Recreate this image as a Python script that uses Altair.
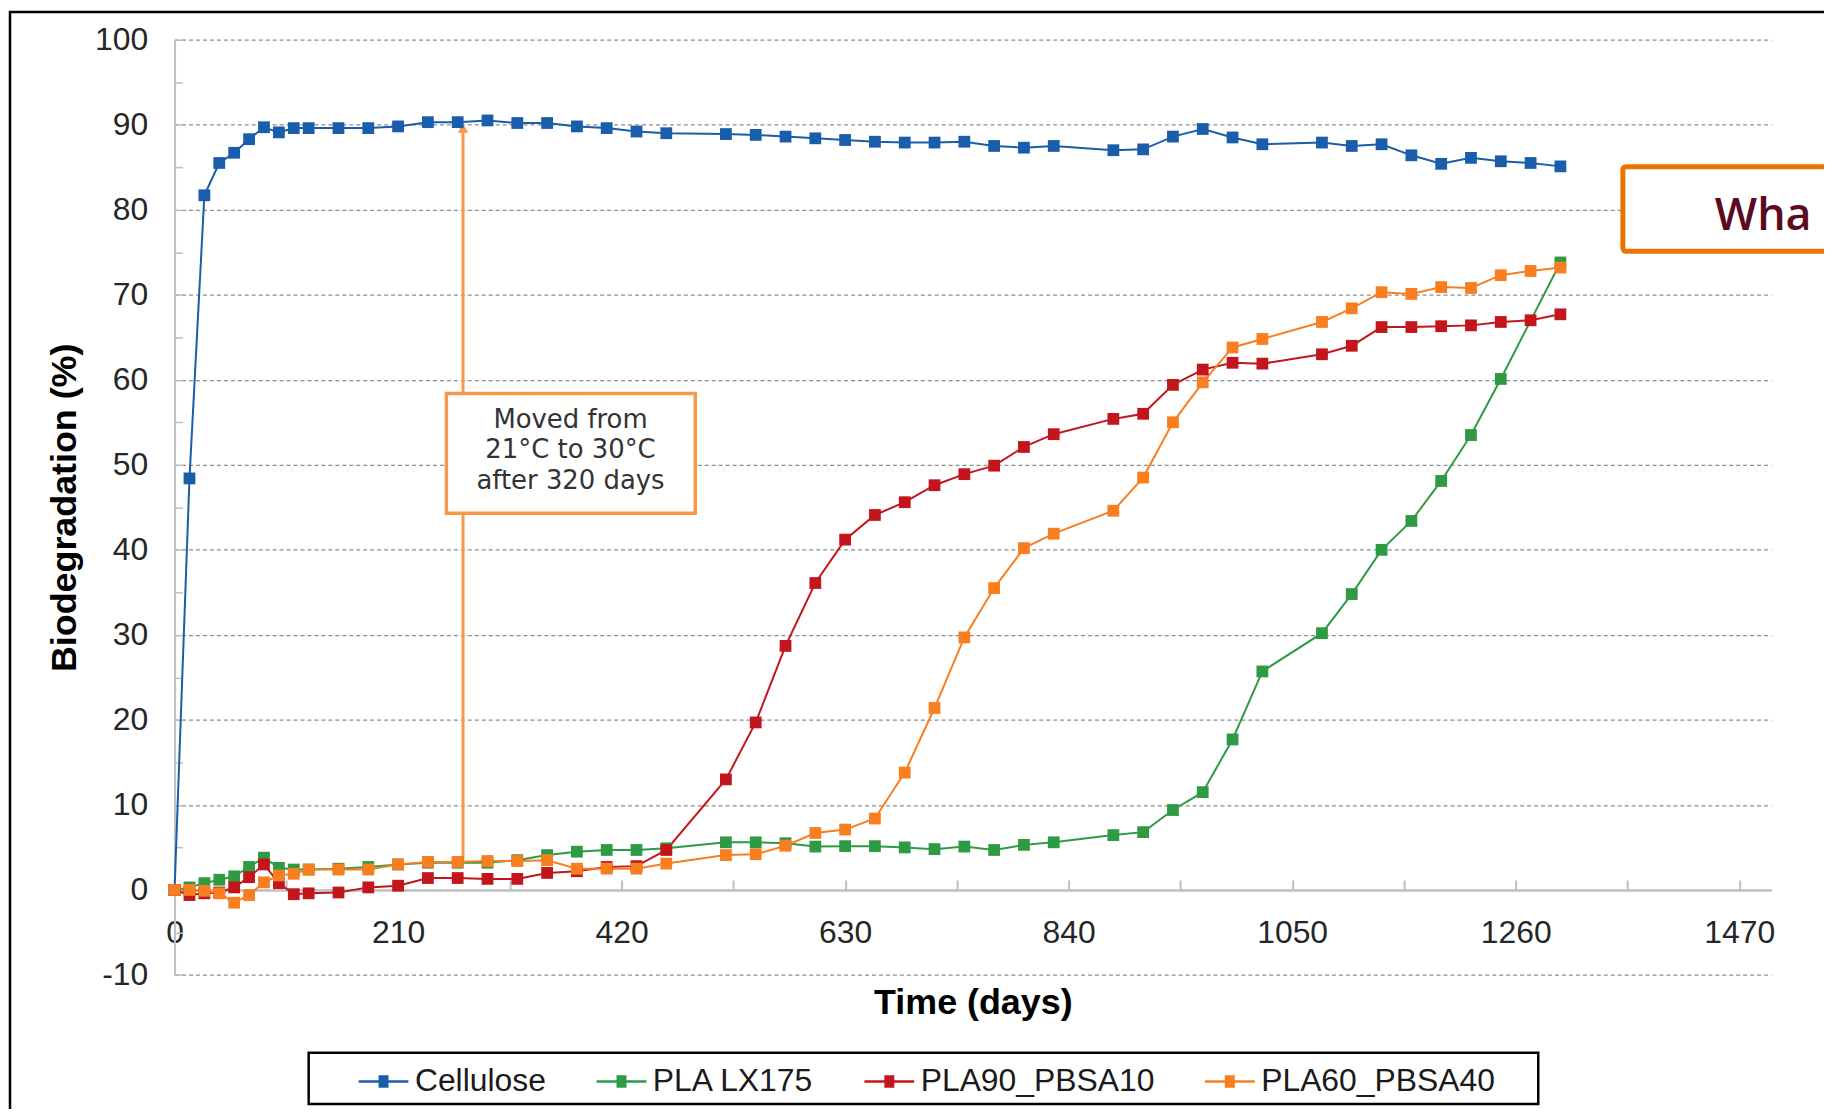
import altair as alt
import pandas as pd

# ---------------- data ----------------
days = [0, 14, 28, 42, 56, 70, 84, 98, 112, 126,
        154, 182, 210, 238, 266, 294, 322, 350, 378, 406,
        434, 462, 518, 546, 574, 602, 630, 658, 686, 714,
        742, 770, 798, 826, 882, 910, 938, 966, 994, 1022,
        1078, 1106, 1134, 1162, 1190, 1218, 1246, 1274, 1302]

cellulose = [0, 48.4, 81.7, 85.5, 86.7, 88.3, 89.7, 89.1, 89.6, 89.6,
             89.6, 89.6, 89.8, 90.3, 90.3, 90.5, 90.2, 90.2, 89.8, 89.6,
             89.2, 89.0, 88.9, 88.8, 88.6, 88.4, 88.2, 88.0, 87.9, 87.9,
             88.0, 87.5, 87.3, 87.5, 87.0, 87.1, 88.6, 89.5, 88.5, 87.7,
             87.9, 87.5, 87.7, 86.4, 85.4, 86.1, 85.7, 85.5, 85.1]

pla_lx175 = [0, 0.3, 0.8, 1.2, 1.6, 2.7, 3.8, 2.6, 2.4, 2.4,
             2.5, 2.7, 3.0, 3.2, 3.2, 3.2, 3.5, 4.1, 4.5, 4.7,
             4.7, 4.9, 5.6, 5.6, 5.5, 5.1, 5.15, 5.15, 5.0, 4.8,
             5.1, 4.7, 5.3, 5.6, 6.45, 6.8, 9.4, 11.5, 17.7, 25.7,
             30.2, 34.8, 40.0, 43.4, 48.1, 53.5, 60.1, None, 73.8]

pla90_pbsa10 = [0, -0.6, -0.4, -0.3, 0.3, 1.5, 3.0, 0.8, -0.5, -0.4,
                -0.3, 0.3, 0.5, 1.4, 1.4, 1.3, 1.3, 2.0, 2.2, 2.7,
                2.8, 4.7, 13.0, 19.7, 28.7, 36.1, 41.2, 44.1, 45.6, 47.6,
                48.9, 49.9, 52.1, 53.6, 55.4, 56.0, 59.4, 61.2, 62.0, 61.9,
                63.0, 64.0, 66.2, 66.2, 66.3, 66.4, 66.8, 67.0, 67.7]

pla60_pbsa40 = [0, 0.0, -0.1, -0.4, -1.5, -0.6, 0.9, 1.7, 1.9, 2.4,
                2.4, 2.4, 3.0, 3.3, 3.3, 3.4, 3.4, 3.5, 2.5, 2.5,
                2.5, 3.1, 4.1, 4.2, 5.2, 6.7, 7.1, 8.4, 13.8, 21.4,
                29.7, 35.5, 40.2, 41.9, 44.6, 48.5, 55.0, 59.7, 63.8, 64.8,
                66.8, 68.4, 70.3, 70.1, 70.9, 70.8, 72.3, 72.8, 73.2]

series_names = ["Cellulose", "PLA LX175", "PLA90_PBSA10", "PLA60_PBSA40"]
series_colors = ["#1A5DAB", "#2F9A44", "#C3161C", "#F97E1F"]

x_label_values = [0, 210, 420, 630, 840, 1050, 1260, 1470]
x_tick_values = [0, 105, 210, 315, 420, 525, 630, 735, 840, 945, 1050, 1155, 1260, 1365, 1470]
y_label_values = [-10, 0, 10, 20, 30, 40, 50, 60, 70, 80, 90, 100]
y_tick_values = [-10, -5, 0, 5, 10, 15, 20, 25, 30, 35, 40, 45, 50, 55, 60, 65, 70, 75, 80, 85, 90, 95, 100]

# annotation: temperature change
shift_day = [271]
shift_from = [3.2]
shift_to = [89.6]
note_box_x = [255.4]
note_box_x2 = [489.2]
note_box_y = [58.4]
note_box_y2 = [44.3]
note_lines = ["Moved from", "21\u00b0C to 30\u00b0C", "after 320 days"]
note_line_y = [55.3, 51.7, 48.1]
note_x = 372

rows = []
for name, vals in zip(series_names, [cellulose, pla_lx175, pla90_pbsa10, pla60_pbsa40]):
    for d, v in zip(days, vals):
        if v is None:
            continue
        rows.append({"series": name, "day": d, "value": v})
df = pd.DataFrame(rows)

# ---------------- layout ----------------
PW = 1603.6
PH = 939.4
FONT = "Liberation Sans"
# line with a small "filled" square drawn from stacked strokes
LEGEND_PATH = ("M-1,0H1"
               "M-0.2,-0.2H0.2M-0.2,-0.1H0.2M-0.2,0H0.2M-0.2,0.1H0.2M-0.2,0.2H0.2")

xs = alt.Scale(domain=[0, 1500], nice=False, zero=False)
ys = alt.Scale(domain=[-10, 100], nice=False, zero=False)
cs = alt.Scale(domain=series_names, range=series_colors)

legend = alt.Legend(
    orient="none", legendX=183.4, legendY=1019.6, direction="horizontal",
    columns=4, title=None, labelFont=FONT, labelFontSize=32, labelColor="#1a1a1a",
    symbolType=LEGEND_PATH, symbolSize=2500, symbolStrokeWidth=2.6,
    symbolFillColor="transparent", symbolOpacity=1,
    labelOffset=5, columnPadding=45, padding=0, labelLimit=500,
)

dummy = pd.DataFrame({"k": [0]})

TOTAL_W = 1824
TOTAL_H = 1101
PAD_L = 167.3
PAD_T = 29.4

# slide frame (left + top edges)
frame = alt.Chart(dummy).mark_rect(fill=None, stroke="black", strokeWidth=2.5).encode(
    x=alt.value(-165.3), x2=alt.value(1700), y=alt.value(1.5 - PAD_T), y2=alt.value(1200)
)

base = alt.Chart(df)

lines = base.mark_line(strokeWidth=2).encode(
    x=alt.X("day:Q", scale=xs, axis=alt.Axis(
        orient="bottom", offset=-PH * 10 / 110, values=x_label_values, format="d",
        grid=False, ticks=False, tickSize=0,
        domainColor="#BFBFBF", domainWidth=2.5,
        labelFont=FONT, labelFontSize=32, labelColor="#262626", labelPadding=28,
        labelFlush=False, labelOverlap=False,
        title="Time (days)", titleFont=FONT, titleFontSize=36, titleFontWeight="bold",
        titleColor="black", titleX=PW / 2, titleY=113.5, titleAlign="center",
        titleBaseline="middle")),
    y=alt.Y("value:Q", scale=ys, axis=alt.Axis(
        orient="left", values=y_label_values, labelExpr="'' + datum.value",
        grid=True, gridDash=[4, 3], gridColor="#8C8C8C", gridWidth=1.3,
        ticks=False, tickSize=0, domainColor="#BFBFBF", domainWidth=2,
        labelFont=FONT, labelFontSize=32, labelColor="#262626", labelPadding=27,
        labelOverlap=False,
        title="Biodegradation (%)", titleFont=FONT, titleFontSize=36,
        titleFontWeight="bold", titleColor="black", titleX=-110, titleY=PH / 2,
        titleAngle=-90, titleAlign="center", titleBaseline="middle")),
    color=alt.Color("series:N", scale=cs, legend=legend),
    detail="series:N",
)

points = base.mark_point(shape="square", filled=True, size=140, opacity=1).encode(
    x=alt.X("day:Q", scale=xs, axis=alt.Axis(
        orient="top", offset=-PH * 100 / 110, values=x_tick_values,
        labels=False, domain=False, grid=False, ticks=True, tickSize=10,
        tickColor="#BFBFBF", tickWidth=2, title=None)),
    y=alt.Y("value:Q", scale=ys, axis=alt.Axis(
        orient="right", offset=-PW, values=y_tick_values,
        labels=False, domain=False, grid=False, ticks=True, tickSize=8,
        tickColor="#BFBFBF", tickWidth=1.5, title=None)),
    color=alt.Color("series:N", scale=cs, legend=legend),
)

ann_df = pd.DataFrame({"day": shift_day, "y1": shift_from, "y2": shift_to})
vline = alt.Chart(ann_df).mark_rule(color="#F59A4B", strokeWidth=3).encode(
    x=alt.X("day:Q", scale=xs, axis=None),
    y=alt.Y("y1:Q", scale=ys, axis=None),
    y2="y2:Q",
)
arrow = alt.Chart(ann_df).mark_point(shape="triangle-up", filled=True, size=110,
                                     color="#F59A4B", opacity=1).encode(
    x=alt.X("day:Q", scale=xs, axis=None),
    y=alt.Y("y2:Q", scale=ys, axis=None),
)

box_df = pd.DataFrame({"x1": note_box_x, "x2": note_box_x2, "y1": note_box_y, "y2": note_box_y2})
note_box = alt.Chart(box_df).mark_rect(fill="white", stroke="#F59A4B", strokeWidth=3.5).encode(
    x=alt.X("x1:Q", scale=xs, axis=None), x2="x2:Q",
    y=alt.Y("y1:Q", scale=ys, axis=None), y2="y2:Q",
)
note_df = pd.DataFrame({"txt": note_lines, "y": note_line_y, "x": [note_x] * len(note_lines)})
note_text = alt.Chart(note_df).mark_text(font="DejaVu Sans", fontSize=26, color="#333333",
                                         align="center", baseline="middle").encode(
    x=alt.X("x:Q", scale=xs, axis=None),
    y=alt.Y("y:Q", scale=ys, axis=None),
    text="txt:N",
)

# cropped slide element at the right edge
what_box = alt.Chart(dummy).mark_rect(fill="white", stroke="#EE7203", strokeWidth=5,
                                      cornerRadius=3).encode(
    x=alt.value(1454.7), x2=alt.value(1720), y=alt.value(127.6), y2=alt.value(212.6)
)
what_text = alt.Chart(dummy).mark_text(font="Open Sans", fontSize=45, fontWeight=600,
                                       color="#5B0A22", align="left",
                                       baseline="alphabetic").encode(
    x=alt.value(1547), y=alt.value(191), text=alt.value("Wha")
)

legend_frame = alt.Chart(dummy).mark_rect(fill=None, stroke="black", strokeWidth=2.5).encode(
    x=alt.value(134.7), x2=alt.value(1369.7), y=alt.value(1017.6), y2=alt.value(1069.1)
)

chart = alt.layer(
    frame, lines, vline, arrow, points, note_box, note_text, what_box, what_text, legend_frame
).resolve_axis(x="independent", y="independent").properties(
    width=PW, height=PH,
    autosize=alt.AutoSizeParams(type="none"),
    padding={"left": PAD_L, "top": PAD_T, "right": TOTAL_W - PAD_L - PW,
             "bottom": TOTAL_H - PAD_T - PH},
    background="white",
).configure_view(stroke=None)

chart.save("out.html", embed_options={"renderer": "svg", "actions": False})
